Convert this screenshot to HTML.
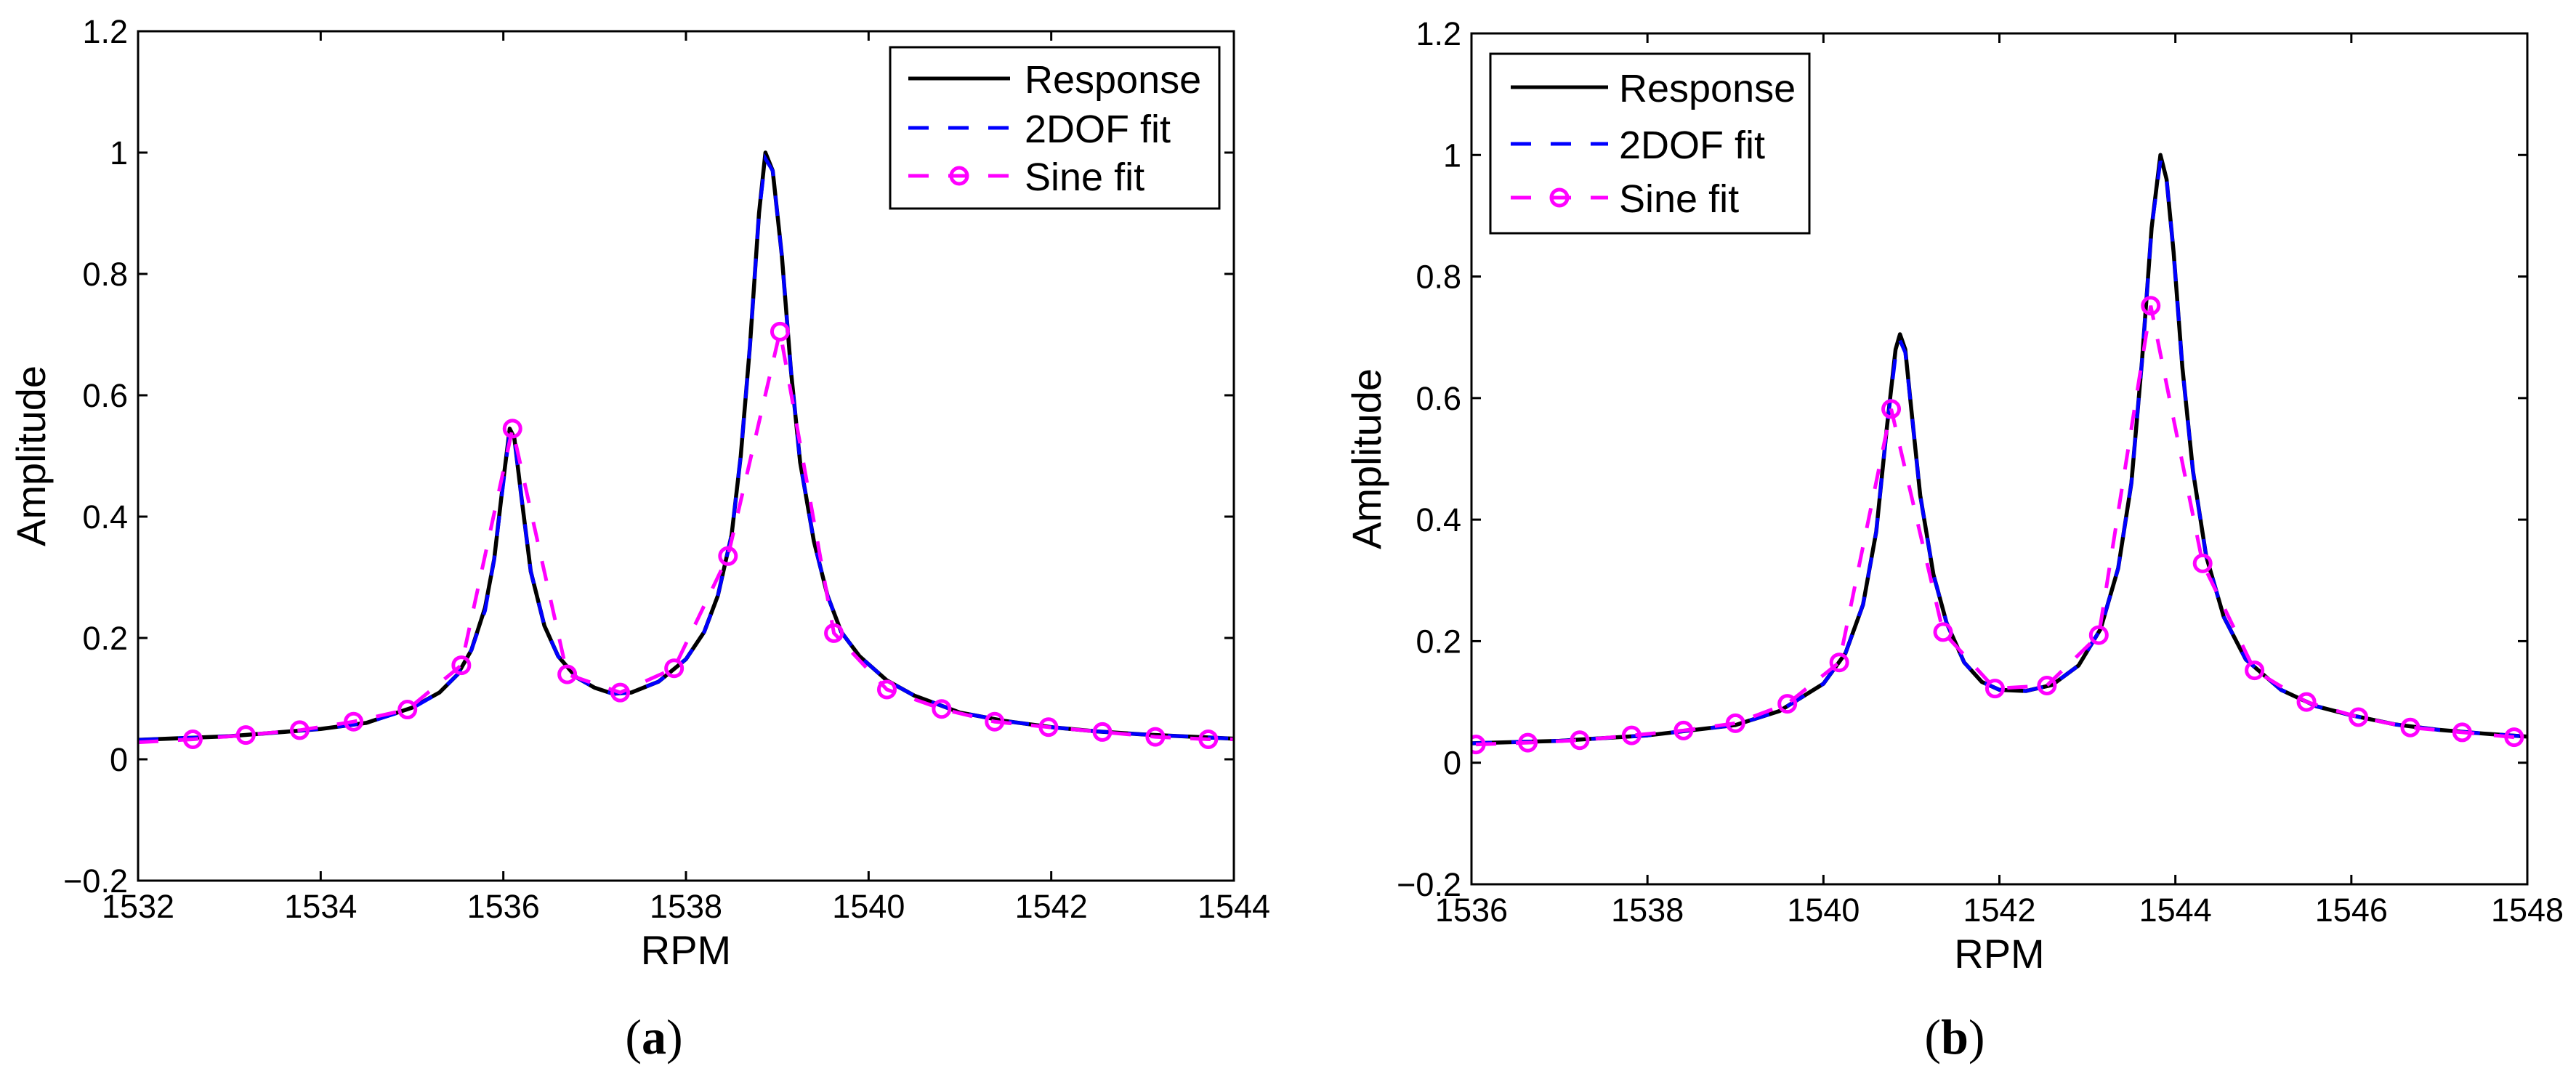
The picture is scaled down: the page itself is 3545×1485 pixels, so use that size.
<!DOCTYPE html>
<html><head><meta charset="utf-8"><style>
html,body{margin:0;padding:0;background:#fff;}
svg{display:block;}
text{font-family:"Liberation Sans",sans-serif;fill:#000;}
</style></head><body>
<svg id="fig" width="3545" height="1485" viewBox="0 0 3545 1485" xmlns="http://www.w3.org/2000/svg"></svg>
<script>
// ---- Panel (a) data ----
const respAX = [1532,1533,1534,1534.5,1535,1535.3,1535.5,1535.65,1535.8,1535.9,1536.0,1536.07,1536.12,1536.2,1536.3,1536.45,1536.6,1536.8,1537.0,1537.2,1537.4,1537.7,1538.0,1538.2,1538.35,1538.5,1538.6,1538.7,1538.8,1538.87,1538.95,1539.05,1539.15,1539.25,1539.4,1539.55,1539.7,1539.9,1540.2,1540.5,1541,1541.5,1542,1542.5,1543,1544];
const respAY = [0.032,0.038,0.05,0.06,0.085,0.11,0.14,0.18,0.25,0.33,0.46,0.545,0.53,0.43,0.31,0.22,0.17,0.135,0.118,0.108,0.11,0.128,0.165,0.21,0.27,0.37,0.5,0.68,0.9,1.0,0.97,0.83,0.64,0.49,0.36,0.27,0.21,0.17,0.13,0.105,0.077,0.063,0.053,0.046,0.041,0.034];
const dofAY  = [0.032,0.038,0.05,0.06,0.084,0.11,0.14,0.18,0.245,0.33,0.455,0.54,0.53,0.43,0.31,0.22,0.17,0.135,0.118,0.108,0.11,0.128,0.165,0.21,0.27,0.37,0.5,0.68,0.9,0.99,0.97,0.83,0.64,0.49,0.36,0.27,0.21,0.17,0.13,0.105,0.077,0.063,0.053,0.046,0.041,0.034];
const sineAX = [1532,1532.6,1533.18,1533.77,1534.36,1534.95,1535.54,1536.1,1536.7,1537.28,1537.87,1538.46,1539.03,1539.62,1540.2,1540.8,1541.38,1541.97,1542.56,1543.14,1543.72,1544];
const sineAY = [0.028,0.033,0.04,0.048,0.062,0.082,0.155,0.545,0.14,0.11,0.15,0.335,0.705,0.208,0.115,0.083,0.062,0.053,0.045,0.037,0.033,0.033];
const sineAMark = [0,1,1,1,1,1,1,1,1,1,1,1,1,1,1,1,1,1,1,1,1,0];
const xTicksA = [1532,1534,1536,1538,1540,1542,1544];
// ---- Panel (b) data ----
const respBX = [1536,1537,1538,1539,1539.5,1540,1540.25,1540.45,1540.6,1540.72,1540.82,1540.87,1540.93,1541.0,1541.1,1541.25,1541.4,1541.6,1541.8,1542.0,1542.3,1542.6,1542.9,1543.15,1543.35,1543.5,1543.62,1543.73,1543.83,1543.9,1543.98,1544.08,1544.2,1544.35,1544.55,1544.8,1545.2,1545.6,1546,1546.5,1547,1547.5,1548];
const respBY = [0.032,0.036,0.045,0.062,0.085,0.13,0.18,0.26,0.38,0.55,0.68,0.705,0.68,0.58,0.44,0.31,0.23,0.165,0.133,0.12,0.118,0.128,0.16,0.22,0.32,0.46,0.66,0.88,1.0,0.96,0.84,0.65,0.48,0.34,0.24,0.17,0.12,0.093,0.078,0.063,0.054,0.048,0.043];
const dofBY  = [0.032,0.036,0.045,0.062,0.085,0.13,0.18,0.26,0.38,0.55,0.67,0.695,0.675,0.58,0.44,0.31,0.23,0.165,0.133,0.12,0.118,0.128,0.16,0.22,0.32,0.46,0.66,0.88,0.99,0.96,0.84,0.65,0.48,0.34,0.24,0.17,0.12,0.093,0.078,0.063,0.054,0.048,0.043];
const sineBX = [1536.05,1536.64,1537.23,1537.82,1538.41,1539.0,1539.59,1540.18,1540.77,1541.36,1541.95,1542.54,1543.13,1543.72,1544.31,1544.9,1545.49,1546.08,1546.67,1547.26,1547.85];
const sineBY = [0.03,0.033,0.037,0.045,0.053,0.065,0.097,0.165,0.582,0.215,0.122,0.127,0.21,0.752,0.328,0.152,0.1,0.075,0.058,0.05,0.042];
const sineBMark = [1,1,1,1,1,1,1,1,1,1,1,1,1,1,1,1,1,1,1,1,1];
const xTicksB = [1536,1538,1540,1542,1544,1546,1548];
const yTicks = [-0.2,0,0.2,0.4,0.6,0.8,1,1.2];
const yTickLabels = ["\u22120.2","0","0.2","0.4","0.6","0.8","1","1.2"];
const legendLabels = ["Response","2DOF fit","Sine fit"];

const NS="http://www.w3.org/2000/svg";
const svg=document.getElementById('fig');
function mk(tag,attrs,parent){const e=document.createElementNS(NS,tag);for(const k in attrs)e.setAttribute(k,attrs[k]);(parent||svg).appendChild(e);return e;}

function panel(cfg){
  const g=mk('g',{});
  
  
  const L=cfg.L,R=cfg.R,T=cfg.T,B=cfg.B;
  const sx=v=>L+(v-cfg.x0)/(cfg.x1-cfg.x0)*(R-L);
  const sy=v=>B-(v-(-0.2))/1.4*(B-T);
  const cp=mk('clipPath',{id:'clip'+cfg.id},g);
  mk('rect',{x:L,y:T,width:R-L,height:B-T},cp);
  const plot=mk('g',{'clip-path':'url(#clip'+cfg.id+')'},g);
  const pr=mk('polyline',{points:cfg.rx.map((x,i)=>sx(x)+','+sy(cfg.ry[i])).join(' '),fill:'none',stroke:'#000','stroke-width':5.5,'stroke-linejoin':'round'},plot);
  
  
  const pd=mk('polyline',{points:cfg.rx.map((x,i)=>sx(x)+','+sy(cfg.dy[i])).join(' '),fill:'none',stroke:'#0000ff','stroke-width':5,'stroke-dasharray':'28 27'},plot);
  
  
  const ps=mk('polyline',{points:cfg.sx.map((x,i)=>sx(x)+','+sy(cfg.sy[i])).join(' '),fill:'none',stroke:'#ff00ff','stroke-width':5,'stroke-dasharray':'28 27'},plot);
  
  
  cfg.sx.forEach((x,i)=>{ if(!cfg.sm[i])return;
    const c=mk('circle',{cx:sx(x),cy:sy(cfg.sy[i]),r:11,fill:'none',stroke:'#ff00ff','stroke-width':5},plot);
    
    
  });
  const box=mk('rect',{x:L,y:T,width:R-L,height:B-T,fill:'none',stroke:'#000','stroke-width':3},g);
  
  
  cfg.xt.forEach(v=>{const x=sx(v);
    mk('line',{x1:x,y1:B,x2:x,y2:B-13,stroke:'#000','stroke-width':3},g);
    mk('line',{x1:x,y1:T,x2:x,y2:T+13,stroke:'#000','stroke-width':3},g);
    const t=mk('text',{x:x,y:B+51,'font-size':45,'text-anchor':'middle'},g);t.textContent=v;
    
    
  });
  yTicks.forEach((v,i)=>{const y=sy(v);
    mk('line',{x1:L,y1:y,x2:L+13,y2:y,stroke:'#000','stroke-width':3},g);
    mk('line',{x1:R,y1:y,x2:R-13,y2:y,stroke:'#000','stroke-width':3},g);
    const t=mk('text',{x:L-14,y:y+16,'font-size':45,'text-anchor':'end'},g);t.textContent=yTickLabels[i];
    
    
  });
  const xl=mk('text',{x:(L+R)/2,y:B+115,'font-size':56,'text-anchor':'middle'},g);xl.textContent='RPM';
  
  
  const yl=mk('text',{x:0,y:0,'font-size':56,'text-anchor':'middle',transform:'translate('+cfg.ylx+','+(T+B)/2+') rotate(-90)'},g);yl.textContent='Amplitude';
  
  
  const lg=mk('g',{},g);
  
  
  const lb=cfg.leg;
  mk('rect',{x:lb.x0,y:lb.y0,width:lb.x1-lb.x0,height:lb.y1-lb.y0,fill:'#fff',stroke:'#000','stroke-width':3},lg);
  const cols=['#000','#0000ff','#ff00ff'];
  legendLabels.forEach((s,i)=>{
    const y=lb.rows[i];
    const ln=mk('line',{x1:lb.sx0,y1:y,x2:lb.sx1,y2:y,stroke:cols[i],'stroke-width':5},lg);
    if(i>0)ln.setAttribute('stroke-dasharray','28 27');
    
    
    if(i==2){mk('circle',{cx:(lb.sx0+lb.sx1)/2,cy:y,r:11,fill:'none',stroke:'#ff00ff','stroke-width':5},lg);}
    const t=mk('text',{x:lb.tx,y:y+20,'font-size':lb.fs},lg);t.textContent=s;
    
    
  });
  const cap=mk('text',{x:cfg.capx,y:1450,'font-size':68,'text-anchor':'middle','style':'font-family:"Liberation Serif",serif'},g);
  cap.innerHTML='(<tspan font-weight="bold">'+cfg.cap+'</tspan>)';
  
  
}
panel({id:'a',name:'panel-a',L:190,R:1698,T:43,B:1212,x0:1532,x1:1544,rx:respAX,ry:respAY,dy:dofAY,sx:sineAX,sy:sineAY,sm:sineAMark,xt:xTicksA,ylx:62,capx:900,cap:'a',
  leg:{x0:1225,y0:65,x1:1678,y1:287,rows:[108,176,242],sx0:1250,sx1:1390,tx:1410,fs:54}});
panel({id:'b',name:'panel-b',L:2025,R:3478,T:46,B:1217,x0:1536,x1:1548,rx:respBX,ry:respBY,dy:dofBY,sx:sineBX,sy:sineBY,sm:sineBMark,xt:xTicksB,ylx:1900,capx:2690,cap:'b',
  leg:{x0:2051,y0:74,x1:2490,y1:321,rows:[120,198,272],sx0:2079,sx1:2213,tx:2228,fs:54}});
</script>
</body></html>
